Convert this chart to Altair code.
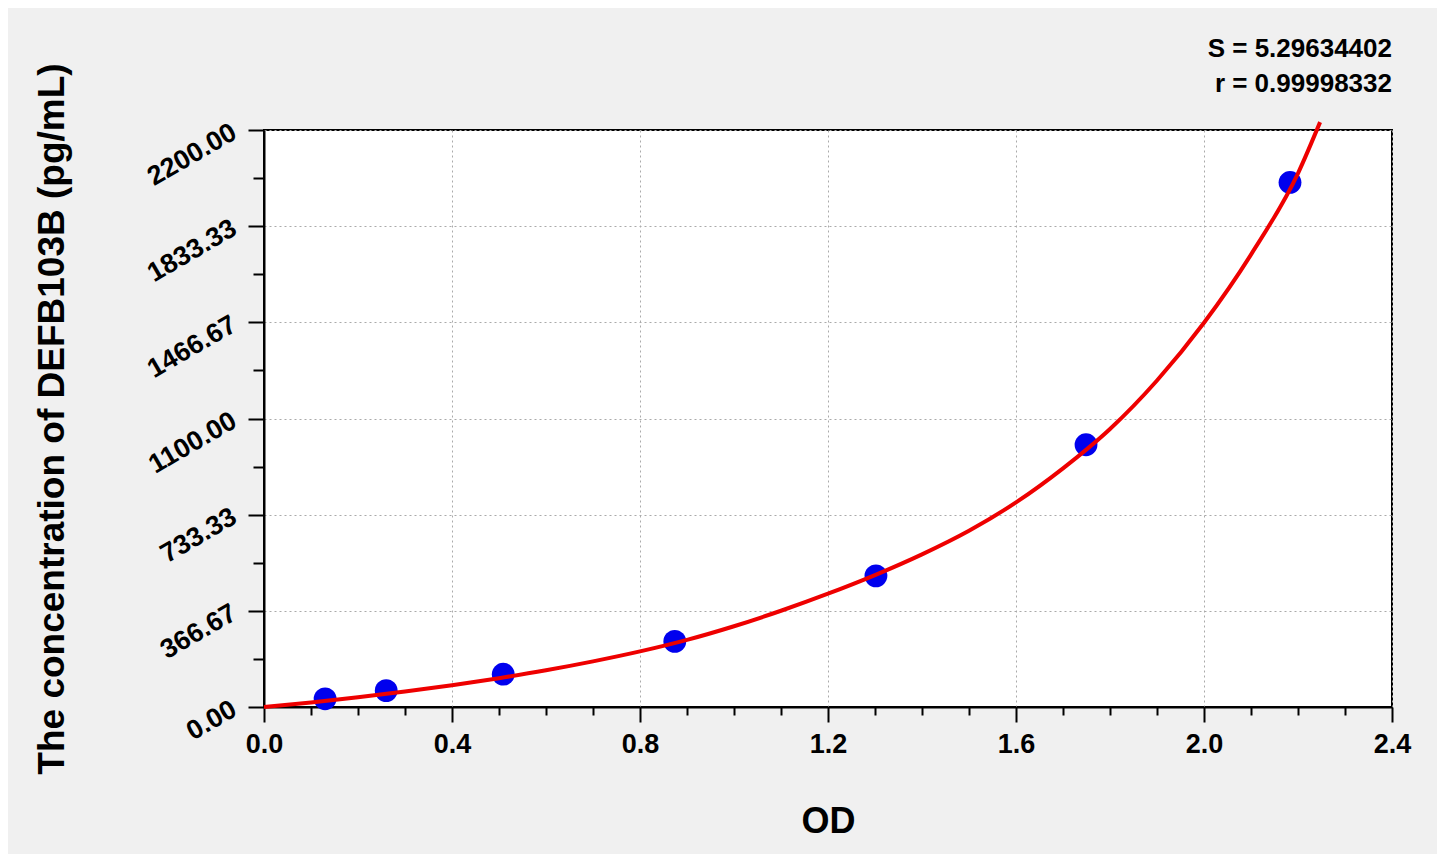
import altair as alt
import pandas as pd

# Standard points (OD, concentration pg/mL)
std_od = [0.130, 0.260, 0.509, 0.874, 1.302, 1.749, 2.183]
std_conc = [31.25, 62.5, 125, 250, 500, 1000, 2000]

# Fitted curve
curve_od = [0.0, 0.1, 0.2, 0.3, 0.4, 0.5, 0.6, 0.7, 0.8, 0.9, 1.0, 1.1, 1.2,
            1.3, 1.4, 1.5, 1.6, 1.7, 1.8, 1.9, 2.0, 2.1, 2.2, 2.247]
curve_conc = [0, 17, 37, 59, 83, 110, 140, 174, 212, 256, 308, 367, 432,
              503, 582, 672, 780, 910, 1060, 1245, 1465, 1725, 2035, 2230]

stats_lines = ["S = 5.29634402", "r = 0.99998332"]

x_tick_values = [round(i * 0.1, 1) for i in range(25)]
y_tick_values = [round(i * 2200 / 24, 4) for i in range(25)]

FONT = "Liberation Sans"

std_df = pd.DataFrame({"od": std_od, "conc": std_conc})
curve_df = pd.DataFrame({"od": curve_od, "conc": curve_conc})

x_major = "round(datum.value * 10) % 4 == 0"
y_major = "round(datum.value * 24 / 2200) % 4 == 0"

x_axis = alt.Axis(
    values=x_tick_values,
    labelExpr=f"{x_major} ? format(datum.value, '.1f') : ''",
    tickSize={"condition": {"test": x_major, "value": 15}, "value": 8},
    grid=True,
    gridOpacity={"condition": {"test": x_major, "value": 1}, "value": 0},
    gridColor="#aaaaaa", gridDash=[2, 3], gridWidth=1,
    domainColor="black", domainWidth=2,
    tickColor="black", tickWidth=2,
    labelFont=FONT, labelFontSize=27, labelFontWeight="bold", labelColor="black",
    labelPadding=9, labelFlush=False, labelOverlap=False,
    title="OD", titleFont=FONT, titleFontSize=36, titleFontWeight="bold",
    titleColor="black", titleX=564, titleY=125, titleAlign="center",
    titleBaseline="alphabetic",
)

y_axis = alt.Axis(
    values=y_tick_values,
    labelExpr=f"{y_major} ? format(datum.value, '.2f') : ''",
    tickSize={"condition": {"test": y_major, "value": 16}, "value": 11},
    grid=True,
    gridOpacity={"condition": {"test": y_major, "value": 1}, "value": 0},
    gridColor="#aaaaaa", gridDash=[2, 3], gridWidth=1,
    domainColor="black", domainWidth=2,
    tickColor="black", tickWidth=2,
    labelFont=FONT, labelFontSize=27, labelFontWeight="bold", labelColor="black",
    labelAngle=-30, labelAlign="right", labelBaseline="middle",
    labelPadding=14, labelFlush=False, labelOverlap=False,
    title="The concentration of DEFB103B (pg/mL)", titleFont=FONT,
    titleFontSize=37, titleFontWeight="bold", titleColor="black",
    titleAngle=-90, titleX=-212, titleY=288.5, titleAlign="center",
    titleBaseline="middle",
)

x_enc = alt.X("od:Q", scale=alt.Scale(domain=[0, 2.4], nice=False), axis=x_axis)
y_enc = alt.Y("conc:Q", scale=alt.Scale(domain=[0, 2200], nice=False), axis=y_axis)

points = alt.Chart(std_df).mark_circle(size=520, color="#0000ee", opacity=1).encode(
    x=x_enc, y=y_enc
)

line = alt.Chart(curve_df).mark_line(color="#ee0000", strokeWidth=4, interpolate="monotone").encode(
    x="od:Q", y="conc:Q"
)

text_layers = []
for txt, yv in zip(stats_lines, [-73, -38]):
    text_layers.append(
        alt.Chart(pd.DataFrame({"t": [txt]})).mark_text(
            align="right", baseline="alphabetic", font=FONT, fontSize=26,
            fontWeight="bold", color="black"
        ).encode(x=alt.value(1128), y=alt.value(yv), text="t:N")
    )

chart = alt.layer(points, line, *text_layers).properties(
    width=1128, height=577,
    autosize=alt.AutoSizeParams(type="none"),
    padding={"left": 256, "top": 122, "right": 45, "bottom": 147},
    background="#f0f0f0",
).configure_view(fill="white", stroke="black", strokeWidth=2)

chart.save("out.html", embed_options={"renderer": "svg", "actions": False})
